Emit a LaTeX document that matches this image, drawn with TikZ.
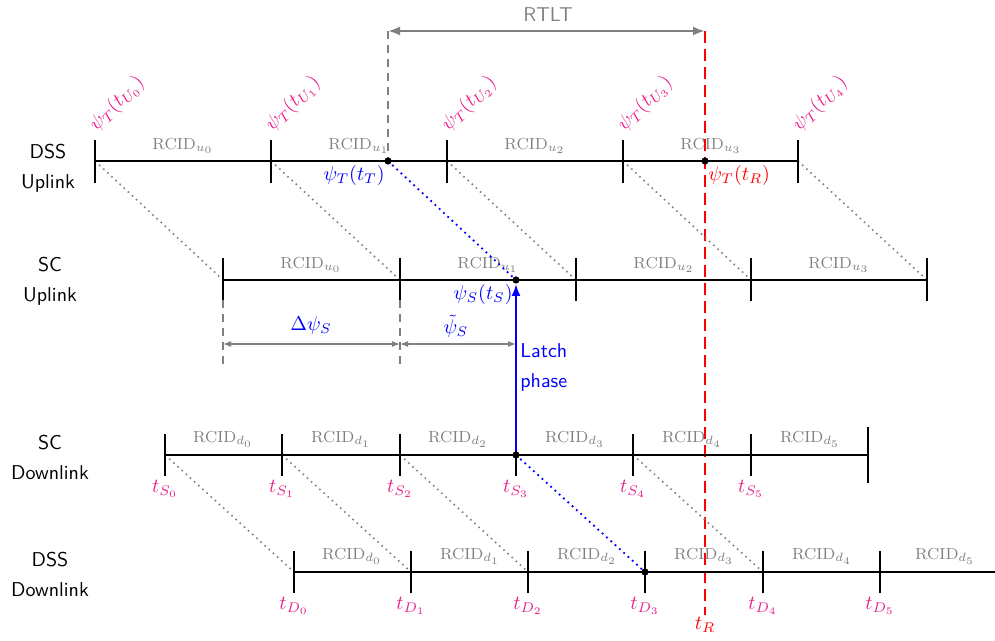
\documentclass[tikz,border=0pt]{standalone}
\usetikzlibrary{arrows.meta,calc}
\definecolor{mypink}{RGB}{232,30,140}
\begin{document}
\begin{tikzpicture}[x=0.5pt,y=-0.5pt,
  mainline/.style={line width=1.05pt,black},
  tickmark/.style={line width=1.15pt,black},
  linkdot/.style={gray,dotted,line width=0.8pt},
  bluedot/.style={blue,dotted,line width=0.9pt},
  rcid/.style={gray,font=\footnotesize,inner sep=1pt},
  rowlabel/.style={font=\sffamily,align=center},
  tlabel/.style={mypink,anchor=north,inner sep=1pt},
  psilabel/.style={mypink,anchor=south west,rotate=45,inner sep=0.5pt},
  event/.style={circle,fill=black,inner sep=0pt,minimum size=3.6pt},
  dimarrow/.style={gray,line width=0.6pt,{Latex[length=4pt,width=3pt]}-{Latex[length=4pt,width=3pt]}},
  guide/.style={gray,dashed,line width=0.8pt,dash pattern=on 4pt off 3pt}]
\useasboundingbox (0,0) rectangle (995,641);

% ---------- row labels
\node[rowlabel] (lu) at (48,168) {DSS\\[3pt]Uplink};
\node[rowlabel] (lsu) at (50,281) {SC\\[3pt]Uplink};
\node[rowlabel] (lsd) at (50,457) {SC\\[3pt]Downlink};
\node[rowlabel] (ldd) at (50,574) {DSS\\[3pt]Downlink};

% ---------- coordinates of ticks
\foreach \x [count=\i from 0] in {95,271,447,623,798} \coordinate (U\i) at (\x,161);
\foreach \x [count=\i from 0] in {223,400,576,751,927} \coordinate (V\i) at (\x,280);
\foreach \x [count=\i from 0] in {165,282,400,516,633,751,868} \coordinate (S\i) at (\x,455);
\foreach \x [count=\i from 0] in {294,411,528,645,763,880} \coordinate (D\i) at (\x,572);
\coordinate (Dend) at (995,572);
\coordinate (tT) at (388,161);
\coordinate (tRu) at (705,161);
\coordinate (tS) at (516,280);

% ---------- RTLT
\coordinate (rtl) at (388,31);
\coordinate (rtr) at (705,31);
\draw[guide] (rtl) -- (tT);

% ---------- red dashed t_R line
\coordinate (rtop) at (705,31);
\coordinate (rbot) at (705,615);
\draw[red,line width=1pt,dash pattern=on 6pt off 3pt] (rtop) -- (rbot);
\node[red,anchor=north,inner sep=1pt] (tR) at (rbot) {$t_R$};

\draw[gray,line width=1.2pt,{Latex[length=6pt,width=4.5pt]}-{Latex[length=6pt,width=4.5pt]}] (rtl) -- (rtr);
\node[gray,font=\sffamily] (rtlt) at (548,15) {RTLT};

% ---------- dotted links
\foreach \i in {0,...,4} \draw[linkdot] (U\i) -- (V\i);
\foreach \i in {0,1,2,4} \draw[linkdot] (S\i) -- (D\i);

% ---------- main lines
\draw[mainline] (U0) -- (U4);
\draw[mainline] (V0) -- (V4);
\draw[mainline] (S0) -- (S6);
\draw[mainline] (D0) -- (Dend);

% ---------- ticks
\foreach \i in {0,...,4} \draw[tickmark] ($(U\i)+(0,-21)$) -- ($(U\i)+(0,22)$);
\foreach \i in {0,...,4} \draw[tickmark] ($(V\i)+(0,-22)$) -- ($(V\i)+(0,21)$);
\foreach \i in {0,...,5} \draw[tickmark] ($(S\i)+(0,-21)$) -- ($(S\i)+(0,21)$);
\draw[tickmark] ($(S6)+(0,-28)$) -- ($(S6)+(0,28)$);
\foreach \i in {0,...,5} \draw[tickmark] ($(D\i)+(0,-21)$) -- ($(D\i)+(0,21)$);

% ---------- RCID labels
\foreach \x [count=\i from 0] in {183,359,535,711} \node[rcid] (ru\i) at (\x,146) {RCID$_{u_{\i}}$};
\foreach \x [count=\i from 0] in {311,488,664,839} \node[rcid] (rv\i) at (\x,265) {RCID$_{u_{\i}}$};
\foreach \x [count=\i from 0] in {223,341,458,575,692,810} \node[rcid] (rs\i) at (\x,439) {RCID$_{d_{\i}}$};
\foreach \x [count=\i from 0] in {352,470,587,704,822,945} \node[rcid] (rd\i) at (\x,556) {RCID$_{d_{\i}}$};

% ---------- time labels
\foreach \i in {0,...,5} \node[tlabel] (ts\i) at ($(S\i)+(0,23)$) {$t_{S_{\i}}$};
\foreach \i in {0,...,5} \node[tlabel] (td\i) at ($(D\i)+(0,23)$) {$t_{D_{\i}}$};
\foreach \i in {0,...,4} \node[psilabel] (pu\i) at ($(U\i)+(5,-24)$) {$\psi_T(t_{U_{\i}})$};

% ---------- events
\draw[bluedot] (tT) -- (tS);
\draw[bluedot] (S3) -- (D3);
\node[event] (eT) at (tT) {};
\node[event] (eR) at (tRu) {};
\node[event] (eS) at (tS) {};
\node[event] (eS3) at (S3) {};
\node[event] (eD3) at (D3) {};
\node[blue,anchor=north east,inner sep=1pt] (psiTT) at (387,163) {$\psi_T(t_T)$};
\node[red,anchor=north west,inner sep=1pt] (psiTR) at (706,163) {$\psi_T(t_R)$};
\node[blue,anchor=north east,inner sep=1pt] (psiS) at (515,282) {$\psi_S(t_S)$};

% ---------- latch arrow
\draw[blue,line width=1pt,-{Latex[length=6pt,width=4.5pt]}] (eS3) -- (eS);
\node[blue,font=\sffamily,align=left,anchor=west,inner sep=1pt] (latch) at (518,367) {Latch\\[3pt]phase};

% ---------- phase dimensions
\coordinate (g0t) at (223,300);
\coordinate (g0b) at (223,368);
\coordinate (g1t) at (400,300);
\coordinate (g1b) at (400,368);
\draw[guide] (g0t) -- (g0b);
\draw[guide] (g1t) -- (g1b);
\coordinate (a0) at (223,344);
\coordinate (a1) at (400,344);
\coordinate (a2) at (516,344);
\draw[dimarrow] (a0) -- (a1);
\draw[dimarrow] (a1) -- (a2);
\node[blue] (dpsi) at (311,326) {$\Delta\psi_S$};
\node[blue] (tpsi) at (456,326) {$\tilde{\psi}_S$};
\end{tikzpicture}
\end{document}
